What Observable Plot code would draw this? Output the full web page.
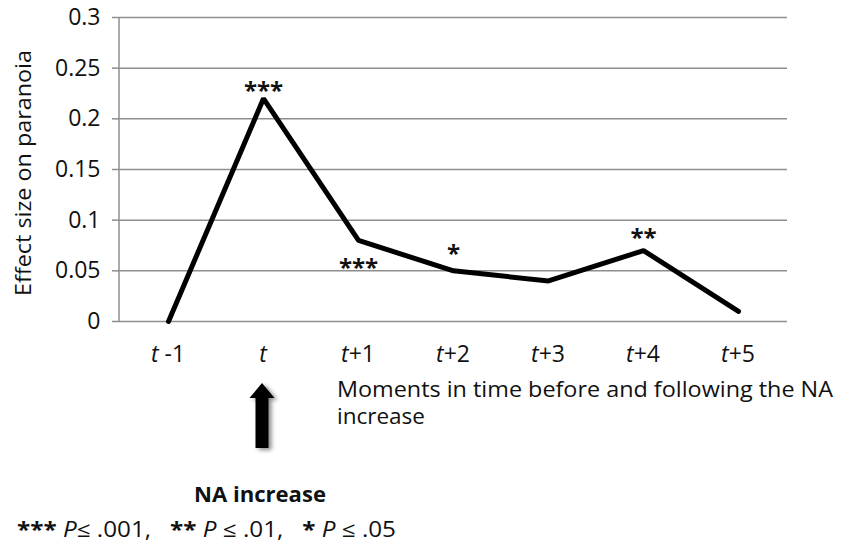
<!DOCTYPE html>
<html>
<head>
<meta charset="utf-8">
<script src="https://cdn.jsdelivr.net/npm/d3@7"></script>
<script src="https://cdn.jsdelivr.net/npm/@observablehq/plot@0.6"></script>
<style>
  html, body { margin: 0; padding: 0; background: #fff; }
  #chart { width: 846px; height: 554px; }
</style>
</head>
<body>
<div id="chart"></div>
<script>
// ---- data ----
const categories = ["t-1", "t", "t+1", "t+2", "t+3", "t+4", "t+5"];
const tickPrefix = "t";
const tickSuffix = [" -1", "", "+1", "+2", "+3", "+4", "+5"];
const effect = [0, 0.22, 0.08, 0.05, 0.04, 0.07, 0.01];
const stars = ["", "***", "***", "*", "", "**", ""];
const yTicks = [0, 0.05, 0.1, 0.15, 0.2, 0.25, 0.3];
const yTickLabels = ["0", "0.05", "0.1", "0.15", "0.2", "0.25", "0.3"];
const yLabel = "Effect size on paranoia";
const xLabelLines = ["Moments in time before and following the NA", "increase"];
const arrowLabel = "NA increase";
const arrowAt = "t";
const footnote = [
  {stars: "***", text: " P", rest: "≤ .001,   "},
  {stars: "**", text: " P", rest: " ≤ .01,   "},
  {stars: "*", text: " P", rest: " ≤ .05"}
];

const FONT = "'Open Sans', 'Noto Sans', sans-serif";
const GRID = "#8e8e8e";
const INK = "#111";
const data = categories.map((c, i) => ({cat: c, value: effect[i], stars: stars[i]}));

// function marks
const leftAxisLine = (index, {y}, values, dims) => {
  const g = d3.create("svg:g");
  g.append("line")
    .attr("x1", dims.marginLeft).attr("x2", dims.marginLeft)
    .attr("y1", y(yTicks[0])).attr("y2", y(yTicks[yTicks.length - 1]))
    .attr("stroke", GRID).attr("stroke-width", 1.5);
  return g.node();
};

const xTickLabels = (index, {x, y}, values, dims) => {
  const g = d3.create("svg:g")
    .attr("font-family", FONT).attr("font-size", 23).attr("fill", INK);
  const base = y(0) + 41;
  categories.forEach((c, i) => {
    const t = g.append("text").attr("x", x(c)).attr("y", base).attr("text-anchor", "middle");
    t.append("tspan").attr("font-style", "italic").text(tickPrefix);
    if (tickSuffix[i]) t.append("tspan").text(tickSuffix[i]);
  });
  return g.node();
};

const yTitle = (index, {y}, values, dims) => {
  const cy = (y(yTicks[0]) + y(yTicks[yTicks.length - 1])) / 2 + 4;
  return d3.create("svg:text")
    .attr("transform", `translate(23,${cy}) rotate(-90)`)
    .attr("x", -123).attr("text-anchor", "start").attr("dominant-baseline", "central")
    .attr("textLength", 246).attr("lengthAdjust", "spacingAndGlyphs")
    .attr("font-family", FONT).attr("font-size", 21).attr("fill", INK)
    .text(yLabel).node();
};

const xTitle = (index, {x, y}, values, dims) => {
  const g = d3.create("svg:g")
    .attr("font-family", FONT).attr("font-size", 21).attr("fill", INK);
  const x0 = x(categories[2]) - 21;
  xLabelLines.forEach((line, i) => {
    const t = g.append("text").attr("x", x0).attr("y", y(0) + 76 + i * 27)
      .attr("text-anchor", "start").text(line);
    if (i === 0) t.attr("textLength", 496).attr("lengthAdjust", "spacingAndGlyphs");
    else t.attr("textLength", 88).attr("lengthAdjust", "spacingAndGlyphs");
  });
  return g.node();
};

const arrowMark = (index, {x, y}, values, dims) => {
  const cx = x(arrowAt) - 1;
  const top = y(0) + 62, headBase = top + 15, bottom = y(0) + 127;
  const g = d3.create("svg:g");
  const defs = g.append("defs");
  const f = defs.append("filter").attr("id", "shadow").attr("x", "-50%").attr("y", "-20%").attr("width", "200%").attr("height", "140%");
  f.append("feDropShadow").attr("dx", 3).attr("dy", 2).attr("stdDeviation", 2)
    .attr("flood-color", "#000").attr("flood-opacity", 0.45);
  const pts = [
    [cx, top], [cx + 12.5, headBase], [cx + 6.5, headBase], [cx + 6.5, bottom],
    [cx - 6.5, bottom], [cx - 6.5, headBase], [cx - 12.5, headBase]
  ];
  g.append("polygon").attr("points", pts.map(p => p.join(",")).join(" "))
    .attr("fill", "#000").attr("filter", "url(#shadow)");
  g.append("text").attr("x", cx - 68).attr("y", y(0) + 181)
    .attr("text-anchor", "start").attr("font-family", FONT).attr("font-size", 22)
    .attr("textLength", 132).attr("lengthAdjust", "spacingAndGlyphs")
    .attr("font-weight", "bold").attr("fill", INK).text(arrowLabel);
  return g.node();
};

const footnoteMark = (index, {x, y}, values, dims) => {
  const t = d3.create("svg:text").attr("x", 17).attr("y", y(0) + 216)
    .attr("text-anchor", "start")
    .attr("textLength", 379).attr("lengthAdjust", "spacingAndGlyphs")
    .attr("font-family", FONT).attr("font-size", 21).attr("fill", INK)
    .attr("xml:space", "preserve").style("white-space", "pre");
  footnote.forEach(f => {
    t.append("tspan").attr("font-weight", "bold").text(f.stars);
    t.append("tspan").attr("font-style", "italic").text(f.text);
    t.append("tspan").text(f.rest);
  });
  return t.node();
};

const starMark = (cat, dy) => Plot.text(data.filter(d => d.cat === cat), {
  x: "cat", y: "value", text: "stars", dy,
  fontSize: 24, fontWeight: "bold", fontFamily: FONT, fill: INK
});

const plot = Plot.plot({
  width: 846,
  height: 554,
  marginTop: 17,
  marginLeft: 119,
  marginRight: 59,
  marginBottom: 233,
  style: {fontFamily: FONT, background: "#fff"},
  x: {type: "point", domain: categories, padding: 0.5, axis: null},
  y: {domain: [0, 0.3], axis: null},
  marks: [
    Plot.gridY(yTicks, {stroke: GRID, strokeOpacity: 1, strokeWidth: 1.5}),
    leftAxisLine,
    Plot.axisY({
      ticks: yTicks, tickFormat: (d, i) => yTickLabels[i], tickSize: 7, tickPadding: 12,
      stroke: GRID, strokeWidth: 1.5, fontSize: 23, fill: INK, label: null
    }),
    Plot.line(data, {x: "cat", y: "value", stroke: "#000", strokeWidth: 5,
      strokeLinejoin: "miter", strokeLinecap: "round"}),
    starMark("t", -7),
    starMark("t+1", 28),
    starMark("t+2", -17),
    starMark("t+4", -12),
    xTickLabels,
    yTitle,
    xTitle,
    arrowMark,
    footnoteMark
  ]
});
document.getElementById("chart").appendChild(plot);
</script>
</body>
</html>
